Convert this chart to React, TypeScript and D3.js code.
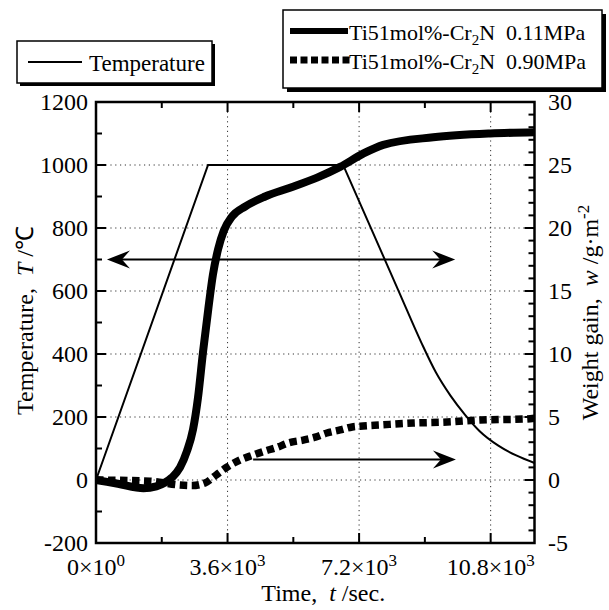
import React from "react";
import * as d3 from "d3";

// ---------- data ----------
const xTickValues = [0, 3600, 7200, 10800];
const xTickMantissa = ["0", "3.6", "7.2", "10.8"];
const xTickExponent = ["0", "3", "3", "3"];
const yLeftTicks = [-200, 0, 200, 400, 600, 800, 1000, 1200];
const yRightTicks = [-5, 0, 5, 10, 15, 20, 25, 30];

// Temperature program (t [s], T [°C])
const tempRamp: [number, number][] = [
  [0, 0],
  [3066, 1000],
  [6762, 1000],
];
const tempCooling: [number, number][] = [
  [6762, 1000],
  [7500, 806],
  [8300, 595],
  [8900, 437],
  [9300, 342],
  [9700, 268],
  [10100, 207],
  [10500, 155],
  [11000, 110],
  [11500, 78],
  [12000, 54],
];

// Weight gain, 0.11 MPa (t [s], w [g/m2])
const gain011: [number, number][] = [
  [0, 0], [600, -0.3], [1300, -0.65], [1650, -0.5], [1890, -0.2], [2080, 0.2],
  [2300, 1.0], [2490, 2.3], [2655, 4.0], [2790, 6.5], [2930, 10.2],
  [3070, 13.5], [3200, 16.3], [3340, 18.3], [3500, 19.8], [3720, 20.9],
  [4080, 21.7], [4630, 22.5], [5310, 23.2], [6050, 24.0], [6680, 24.85],
  [7310, 25.9], [7860, 26.6], [9230, 27.2], [10790, 27.5], [12000, 27.6],
];

// Weight gain, 0.90 MPa
const gain090: [number, number][] = [
  [0, 0], [1480, -0.1], [2300, -0.4], [2630, -0.44], [2980, -0.24],
  [3290, 0.4], [3590, 1.03], [3940, 1.59], [4300, 1.98], [4630, 2.3],
  [4960, 2.6], [5260, 2.94], [5670, 3.17], [6000, 3.4], [6320, 3.73],
  [6680, 3.97], [7010, 4.21], [7310, 4.29], [7780, 4.37], [8680, 4.52],
  [9610, 4.6], [10510, 4.76], [11740, 4.84], [12000, 4.9],
];

// Arrows: temperature-axis arrow (T) and weight-axis arrow (w)
const arrowTemp = { t0: 300, t1: 9830, value: 700 };
const arrowGain = { t0: 4300, t1: 9850, value: 1.62 };

// ---------- layout ----------
const W = 609;
const H = 610;
const L = 96;
const R = 534.5;
const T = 102;
const B = 543;
const FONT = "'Liberation Serif', 'Times New Roman', serif";

export default function App() {
  const x = d3.scaleLinear().domain([0, 12000]).range([L, R]);
  const yT = d3.scaleLinear().domain([-200, 1200]).range([B, T]);
  const yW = d3.scaleLinear().domain([-5, 30]).range([B, T]);

  const lineT = d3.line<[number, number]>().x((d) => x(d[0])).y((d) => yT(d[1]));
  const lineTCurve = d3
    .line<[number, number]>()
    .x((d) => x(d[0]))
    .y((d) => yT(d[1]))
    .curve(d3.curveMonotoneX);
  const lineW = d3
    .line<[number, number]>()
    .x((d) => x(d[0]))
    .y((d) => yW(d[1]))
    .curve(d3.curveMonotoneX);

  const gridX = xTickValues.filter((v) => v > 0);
  const gridY = d3.range(0, 1001, 200);

  const leftMinor = d3.range(-100, 1200, 200);
  const rightAll = d3.range(-5, 31, 1);
  const xMinor = d3.range(1800, 12000, 3600);

  const arrowHead = (tipX: number, tipY: number, dir: number) => {
    const len = 23;
    const half = 9;
    const notch = 15;
    return `M${tipX},${tipY} L${tipX - dir * len},${tipY - half} L${tipX - dir * notch},${tipY} L${tipX - dir * len},${tipY + half} Z`;
  };

  const aTy = yT(arrowTemp.value);
  const aWy = yW(arrowGain.value);

  return (
    <svg
      width={W}
      height={H}
      style={{ position: "absolute", left: 0, top: 0, background: "#fff" }}
      fontFamily={FONT}
    >
      <rect x={0} y={0} width={W} height={H} fill="#fff" />

      {/* grid */}
      {gridX.map((v) => (
        <line key={"gx" + v} x1={x(v)} x2={x(v)} y1={T} y2={B} stroke="#333" strokeWidth={1} strokeDasharray="1.2,3.6" />
      ))}
      {gridY.map((v) => (
        <line key={"gy" + v} x1={L} x2={R} y1={yT(v)} y2={yT(v)} stroke="#333" strokeWidth={1} strokeDasharray="1.2,3.6" />
      ))}

      {/* temperature */}
      <path d={lineT(tempRamp) || ""} fill="none" stroke="#000" strokeWidth={2} strokeLinejoin="miter" />
      <path d={lineTCurve(tempCooling) || ""} fill="none" stroke="#000" strokeWidth={2} />

      {/* 0.90 MPa dashed */}
      <path d={lineW(gain090) || ""} fill="none" stroke="#000" strokeWidth={7.5} strokeDasharray="7.5,4.5" />
      {/* 0.11 MPa thick */}
      <path d={lineW(gain011) || ""} fill="none" stroke="#000" strokeWidth={8} strokeLinejoin="round" />

      {/* arrows */}
      <line x1={x(arrowTemp.t0) + 10} x2={x(arrowTemp.t1) - 10} y1={aTy} y2={aTy} stroke="#000" strokeWidth={2} />
      <path d={arrowHead(x(arrowTemp.t0), aTy, -1)} fill="#000" />
      <path d={arrowHead(x(arrowTemp.t1), aTy, 1)} fill="#000" />
      <line x1={x(arrowGain.t0)} x2={x(arrowGain.t1) - 10} y1={aWy} y2={aWy} stroke="#000" strokeWidth={2} />
      <path d={arrowHead(x(arrowGain.t1), aWy, 1)} fill="#000" />

      {/* frame */}
      <rect x={L} y={T} width={R - L} height={B - T} fill="none" stroke="#000" strokeWidth={2.5} />

      {/* left ticks */}
      {yLeftTicks.map((v) => (
        <line key={"lt" + v} x1={L} x2={L + 10} y1={yT(v)} y2={yT(v)} stroke="#000" strokeWidth={2} />
      ))}
      {leftMinor.map((v) => (
        <line key={"lm" + v} x1={L} x2={L + 6} y1={yT(v)} y2={yT(v)} stroke="#000" strokeWidth={2} />
      ))}
      {/* right ticks */}
      {rightAll.map((v) => (
        <line key={"rt" + v} x1={R} x2={R - (v % 5 === 0 ? 10 : 6)} y1={yW(v)} y2={yW(v)} stroke="#000" strokeWidth={2} />
      ))}
      {/* bottom/top ticks */}
      {xTickValues.map((v) => (
        <g key={"xt" + v}>
          <line x1={x(v)} x2={x(v)} y1={B} y2={B - 10} stroke="#000" strokeWidth={2} />
          <line x1={x(v)} x2={x(v)} y1={T} y2={T + 10} stroke="#000" strokeWidth={2} />
        </g>
      ))}
      {xMinor.map((v) => (
        <g key={"xm" + v}>
          <line x1={x(v)} x2={x(v)} y1={B} y2={B - 6} stroke="#000" strokeWidth={2} />
          <line x1={x(v)} x2={x(v)} y1={T} y2={T + 6} stroke="#000" strokeWidth={2} />
        </g>
      ))}

      {/* left tick labels */}
      {yLeftTicks.map((v) => (
        <text key={"ll" + v} x={88} y={yT(v) + 8} fontSize={24} textAnchor="end">
          {String(v)}
        </text>
      ))}
      {/* right tick labels */}
      {yRightTicks.map((v) => (
        <text key={"rl" + v} x={548} y={yW(v) + 8} fontSize={24} textAnchor="start">
          {String(v)}
        </text>
      ))}
      {/* bottom tick labels */}
      {xTickValues.map((v, i) => (
        <text key={"bl" + v} x={x(v)} y={575} fontSize={24} textAnchor="middle">
          {xTickMantissa[i] + "×10"}
          <tspan dy={-9} fontSize={17}>{xTickExponent[i]}</tspan>
        </text>
      ))}

      {/* axis titles */}
      <text x={(L + R) / 2 + 8} y={601} fontSize={24} textAnchor="middle">
        Time,{"\u00a0\u00a0"}
        <tspan fontStyle="italic">t</tspan>
        {"\u00a0/sec."}
      </text>
      <text transform={`translate(33,${(T + B) / 2 - 2}) rotate(-90)`} fontSize={24} textAnchor="middle">
        Temperature,{"\u00a0\u00a0"}
        <tspan fontStyle="italic">T</tspan>
        {"\u00a0/℃"}
      </text>
      <text transform={`translate(598,${(T + B) / 2 - 10}) rotate(-90)`} fontSize={24} textAnchor="middle">
        Weight gain,{"\u00a0\u00a0"}
        <tspan fontStyle="italic">w</tspan>
        {"\u00a0/g·m"}
        <tspan dy={-9} fontSize={17}>-2</tspan>
      </text>

      {/* legend 1 */}
      <rect x={20} y={44} width={195} height={42} fill="#000" />
      <rect x={17} y={41} width={195} height={42} fill="#fff" stroke="#000" strokeWidth={1.5} />
      <line x1={28} x2={82} y1={62} y2={62} stroke="#000" strokeWidth={2} />
      <text x={89} y={71} fontSize={23}>Temperature</text>

      {/* legend 2 */}
      <rect x={287} y={14} width={319} height={78} fill="#000" />
      <rect x={283} y={10} width={319} height={78} fill="#fff" stroke="#000" strokeWidth={1.5} />
      <line x1={290} x2={348} y1={31} y2={31} stroke="#000" strokeWidth={6} />
      <text x={349} y={40} fontSize={22}>
        Ti51mol%-Cr
        <tspan dy={5} fontSize={15}>2</tspan>
        <tspan dy={-5}>N{"\u00a0\u00a0"}0.11MPa</tspan>
      </text>
      <line x1={290} x2={350} y1={60} y2={60} stroke="#000" strokeWidth={7} strokeDasharray="7,3.5" />
      <text x={349} y={69} fontSize={22}>
        Ti51mol%-Cr
        <tspan dy={5} fontSize={15}>2</tspan>
        <tspan dy={-5}>N{"\u00a0\u00a0"}0.90MPa</tspan>
      </text>
    </svg>
  );
}
